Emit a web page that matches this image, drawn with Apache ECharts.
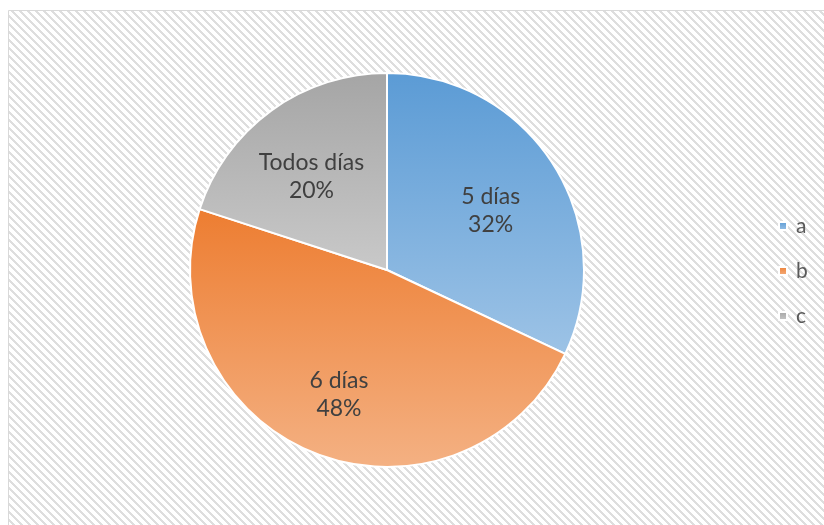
<!DOCTYPE html>
<html>
<head>
<meta charset="utf-8">
<script src="https://cdn.jsdelivr.net/npm/echarts@6/dist/echarts.min.js"></script>
<style>
  html, body { margin: 0; padding: 0; background: #fff; }
  #chart { width: 824px; height: 525px; }
</style>
</head>
<body>
<div id="chart"></div>
<script>
// data
const categories = ['a', 'b', 'c'];
const sliceNames = ['5 días', '6 días', 'Todos días'];
const values = [32, 48, 20];
const colorTop = ['#5b9bd5', '#ed7d31', '#a5a5a5'];
const colorBottom = ['#9dc3e6', '#f4b183', '#c9c9c9'];

const CENTER = [387, 270];
const RADIUS = 197;
// labels sit at about 0.62 of the radius; a clear pie carries them
const LABEL_CENTER = [385, 278];
const LABEL_RADIUS = RADIUS * 0.62 * 2;

// diagonal hatch for the chart area
const makeHatch = () => {
  const c = document.createElement('canvas');
  c.width = 8;
  c.height = 8;
  const ctx = c.getContext('2d');
  ctx.fillStyle = '#ffffff';
  ctx.fillRect(0, 0, 8, 8);
  ctx.fillStyle = '#dedede';
  for (let y = 0; y < 8; y++) {
    for (let x = 0; x < 8; x++) {
      if (((x - y) % 8 + 8) % 8 < 3) ctx.fillRect(x, y, 1, 1);
    }
  }
  return c;
};

const chart = echarts.init(document.getElementById('chart'));

const pieData = categories.map((cat, i) => ({
  name: cat,
  value: values[i],
  itemStyle: {
    color: {
      type: 'linear', x: 0, y: 0, x2: 0, y2: 1,
      colorStops: [
        { offset: 0, color: colorTop[i] },
        { offset: 1, color: colorBottom[i] },
      ],
    },
  },
}));

const labelData = categories.map((cat, i) => ({
  name: cat,
  value: values[i],
  label: { formatter: sliceNames[i] + '\n{d}%' },
}));

const option = {
  backgroundColor: '#ffffff',
  animation: false,
  graphic: [
    {
      type: 'rect',
      z: -10,
      silent: true,
      shape: { x: 8.5, y: 10.5, width: 900, height: 600 },
      style: {
        fill: { image: makeHatch(), repeat: 'repeat' },
        stroke: '#d9d9d9',
        lineWidth: 1,
      },
    },
  ],
  legend: {
    orient: 'vertical',
    left: 773,
    top: 210,
    itemWidth: 8,
    itemHeight: 8,
    itemGap: 23,
    icon: 'rect',
    data: categories,
    textStyle: {
      fontFamily: 'Lato',
      fontSize: 21,
      lineHeight: 22,
      color: '#595959',
      padding: [0, 0, 0, 4],
    },
  },
  series: [
    {
      type: 'pie',
      center: CENTER,
      radius: RADIUS,
      startAngle: 90,
      clockwise: true,
      itemStyle: { borderColor: '#ffffff', borderWidth: 2 },
      label: { show: false },
      labelLine: { show: false },
      emphasis: { disabled: true },
      data: pieData,
    },
    {
      type: 'pie',
      center: LABEL_CENTER,
      radius: LABEL_RADIUS,
      startAngle: 90,
      clockwise: true,
      silent: true,
      z: 3,
      itemStyle: { color: 'rgba(0,0,0,0)', borderWidth: 0 },
      label: {
        position: 'inside',
        fontFamily: 'Lato',
        fontSize: 23,
        lineHeight: 28,
        color: '#404040',
      },
      labelLine: { show: false },
      emphasis: { disabled: true },
      data: labelData,
    },
  ],
};

chart.setOption(option);
</script>
</body>
</html>
